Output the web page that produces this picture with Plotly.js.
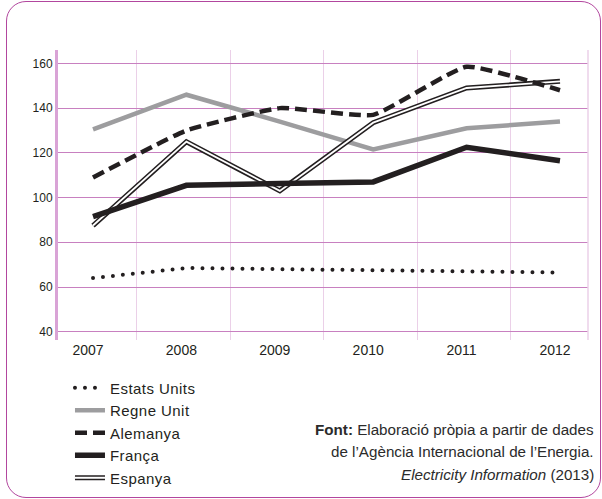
<!DOCTYPE html>
<html>
<head>
<meta charset="utf-8">
<script src="https://cdn.plot.ly/plotly-3.0.1.min.js"></script>
<style>
  html, body { margin: 0; padding: 0; background: #ffffff; }
  #frame { position: absolute; left: 6px; top: 1px; width: 595px; height: 497px; box-sizing: border-box;
           border: 1.5px solid #b2469e; border-radius: 20px; }
  #chart { position: absolute; left: 0; top: 0; width: 602px; height: 499px; }
  #chart .legendtext { letter-spacing: 0.45px; }
</style>
</head>
<body>
<div id="frame"></div>
<div id="chart"></div>
<script>
// ---- data ----
const years = [2007, 2008, 2009, 2010, 2011, 2012];
const yearLabels = ['2007', '2008', '2009', '2010', '2011', '2012'];
const seriesNames = ['Estats Units', 'Regne Unit', 'Alemanya', 'França', 'Espanya'];
const estatsUnits = [64, 68.5, 68, 67.5, 67, 66.5];
const regneUnit = [130.5, 146, 134, 121.5, 131, 134];
const alemanya = [109, 130, 140, 137, 158.5, 148];
const franca = [91.5, 105.5, 106.3, 107, 122.5, 116.5];
const espanya = [87.5, 125, 103, 133.5, 149, 152];
const yTicks = [40, 60, 80, 100, 120, 140, 160];
const sourceLines = [
  '<b>Font:</b> Elaboració pròpia a partir de dades',
  'de l’Agència Internacional de l’Energia.',
  '<i>Electricity Information</i> (2013)'
];

const FONT = 'Liberation Sans, Arial, Helvetica, sans-serif';
const INK = '#231f20';

const traces = [
  { x: years, y: regneUnit, name: seriesNames[1], legendrank: 2, mode: 'lines',
    line: { color: '#9d9d9f', width: 4.5 } },
  { x: years, y: estatsUnits, name: seriesNames[0], legendrank: 1, mode: 'lines',
    line: { color: INK, width: 4, dash: '0px,10px' } },
  { x: years, y: espanya, name: seriesNames[4], legendrank: 5, mode: 'lines',
    line: { color: INK, width: 5 } },
  // white core of the double line (its legend entry only overlays the symbol)
  { x: years, y: espanya, name: '\u00a0', legend: 'legend2', mode: 'lines',
    line: { color: '#ffffff', width: 1.8 } },
  { x: years, y: franca, name: seriesNames[3], legendrank: 4, mode: 'lines',
    line: { color: INK, width: 5.5 } },
  { x: years, y: alemanya, name: seriesNames[2], legendrank: 3, mode: 'lines',
    line: { color: INK, width: 4.5, dash: '12px,6px', shape: 'spline', smoothing: 0.4 } }
];

const legendCommon = {
  x: 0.0226, xref: 'paper', xanchor: 'left',
  y: -0.5328, yref: 'paper', yanchor: 'bottom',
  bgcolor: 'rgba(0,0,0,0)', borderwidth: 0, itemwidth: 30,
  traceorder: 'normal'
};

const annots = sourceLines.map((t, i) => ({
  text: t, xref: 'paper', yref: 'paper', x: 1.015, y: -0.3103 - i * 0.0759,
  xanchor: 'right', yanchor: 'middle', showarrow: false, align: 'right',
  font: { family: FONT, size: 15.2, color: '#2b2b2b' }
}));

const layout = {
  width: 602, height: 499,
  margin: { l: 58, r: 14, t: 50, b: 159, autoexpand: false },
  paper_bgcolor: 'rgba(0,0,0,0)', plot_bgcolor: 'rgba(0,0,0,0)',
  font: { family: FONT, color: INK },
  showlegend: true,
  xaxis: {
    type: 'linear', range: [2006.625, 2012.30],
    tickmode: 'array', tickvals: years, ticktext: yearLabels,
    showgrid: false, zeroline: false, showline: false, ticks: '',
    ticklabelshift: -5,
    tickfont: { family: FONT, size: 14, color: INK },
    minor: { tickmode: 'linear', tick0: 2007.47, dtick: 1, showgrid: true,
             gridcolor: '#ebd0e8', gridwidth: 1, ticks: '' }
  },
  yaxis: {
    range: [36.3, 166], tickmode: 'array', tickvals: yTicks,
    showgrid: true, gridcolor: '#c880c0', gridwidth: 1,
    zeroline: false, showline: true, linecolor: '#d9a3d6', linewidth: 3,
    ticks: '', tickfont: { family: FONT, size: 12, color: INK }
  },
  legend: Object.assign({}, legendCommon, { font: { family: FONT, size: 15, color: INK } }),
  legend2: Object.assign({}, legendCommon, { font: { family: FONT, size: 15, color: 'rgba(0,0,0,0)' } }),
  shapes: [
    { type: 'line', xref: 'paper', yref: 'paper', x0: 1, x1: 1, y0: 0, y1: 1,
      line: { color: '#ebd0e8', width: 1.5 } }
  ],
  annotations: annots
};

Plotly.newPlot('chart', traces, layout, { staticPlot: true, displayModeBar: false }).then(function () {
  document.querySelectorAll('path.js-line').forEach(function (p) {
    var d = p.style.strokeDasharray;
    if (d && parseFloat(d) === 0) { p.style.strokeLinecap = 'round'; }
  });
});
</script>
</body>
</html>
